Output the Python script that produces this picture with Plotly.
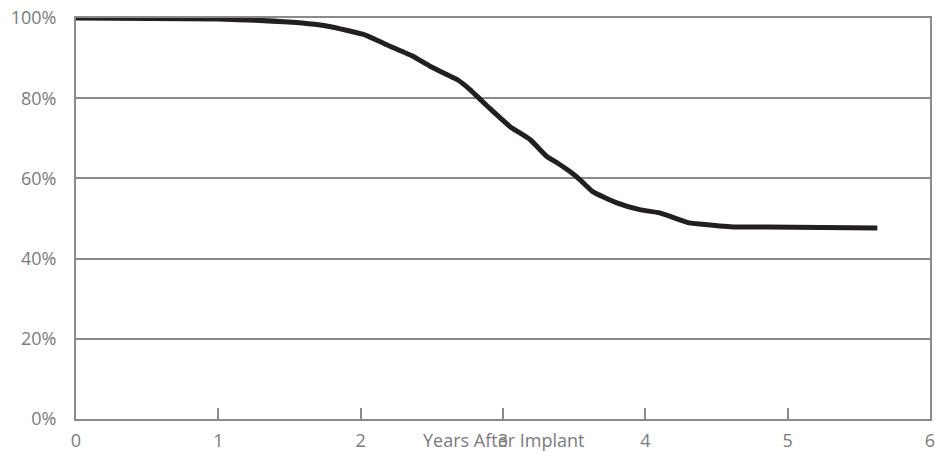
import plotly.graph_objects as go

# survival curve
years = [0, 0.52, 1.0, 1.29, 1.57, 1.78, 2.02, 2.21, 2.37, 2.49, 2.68, 2.77, 2.84,
         2.93, 3.05, 3.19, 3.31, 3.38, 3.47, 3.54, 3.63, 3.80, 3.96, 4.10, 4.31,
         4.38, 4.62, 4.85, 5.63]
survival = [100, 99.9, 99.75, 99.4, 98.8, 97.9, 95.9, 92.9, 90.4, 87.9, 84.6, 82.1, 79.7,
            76.7, 72.9, 69.7, 65.4, 63.9, 61.7, 59.7, 56.7, 53.9, 52.2, 51.4, 48.9,
            48.6, 47.9, 47.9, 47.6]

x_ticks = [0, 1, 2, 3, 4, 5, 6]
y_ticks = [0, 20, 40, 60, 80, 100]
y_labels = ["0%", "20%", "40%", "60%", "80%", "100%"]

grey = "#8a8a8a"
text_grey = "#7a7b7e"
font = "Open Sans"

fig = go.Figure()
fig.add_trace(go.Scatter(
    x=years, y=survival, mode="lines",
    line=dict(color="#231f20", width=5, shape="spline", smoothing=0.4),
    cliponaxis=False, showlegend=False, hoverinfo="skip",
))

fig.update_xaxes(
    range=[0, 6], tickvals=x_ticks, ticktext=[str(t) for t in x_ticks],
    showgrid=False, zeroline=False, automargin=False,
    showline=True, linecolor=grey, linewidth=2, mirror=True,
    ticks="inside", ticklen=11, tickwidth=2, tickcolor=grey,
    ticklabelstandoff=4, ticklabeloverflow="allow",
    tickfont=dict(family=font, size=18, color=text_grey),
)
fig.update_yaxes(
    range=[0, 100], tickvals=y_ticks, ticktext=y_labels,
    showgrid=True, gridcolor=grey, gridwidth=2, zeroline=False, automargin=False,
    showline=True, linecolor=grey, linewidth=2, mirror=True,
    ticks="", ticklabelstandoff=14, ticklabeloverflow="allow",
    tickfont=dict(family=font, size=18, color=text_grey),
)

fig.add_annotation(
    text="Years After Implant", xref="paper", yref="paper",
    x=0.5, y=-21 / 401, xanchor="center", yanchor="middle", showarrow=False,
    font=dict(family=font, size=18, color=text_grey),
)

fig.update_layout(
    width=937, height=457,
    margin=dict(l=76, r=7, t=18, b=38),
    plot_bgcolor="white", paper_bgcolor="white",
)

# drop the default page margin so the figure sits at the window's corner
fig.write_html("out.html", config={"displayModeBar": False},
               post_script="document.body.style.margin='0';")
